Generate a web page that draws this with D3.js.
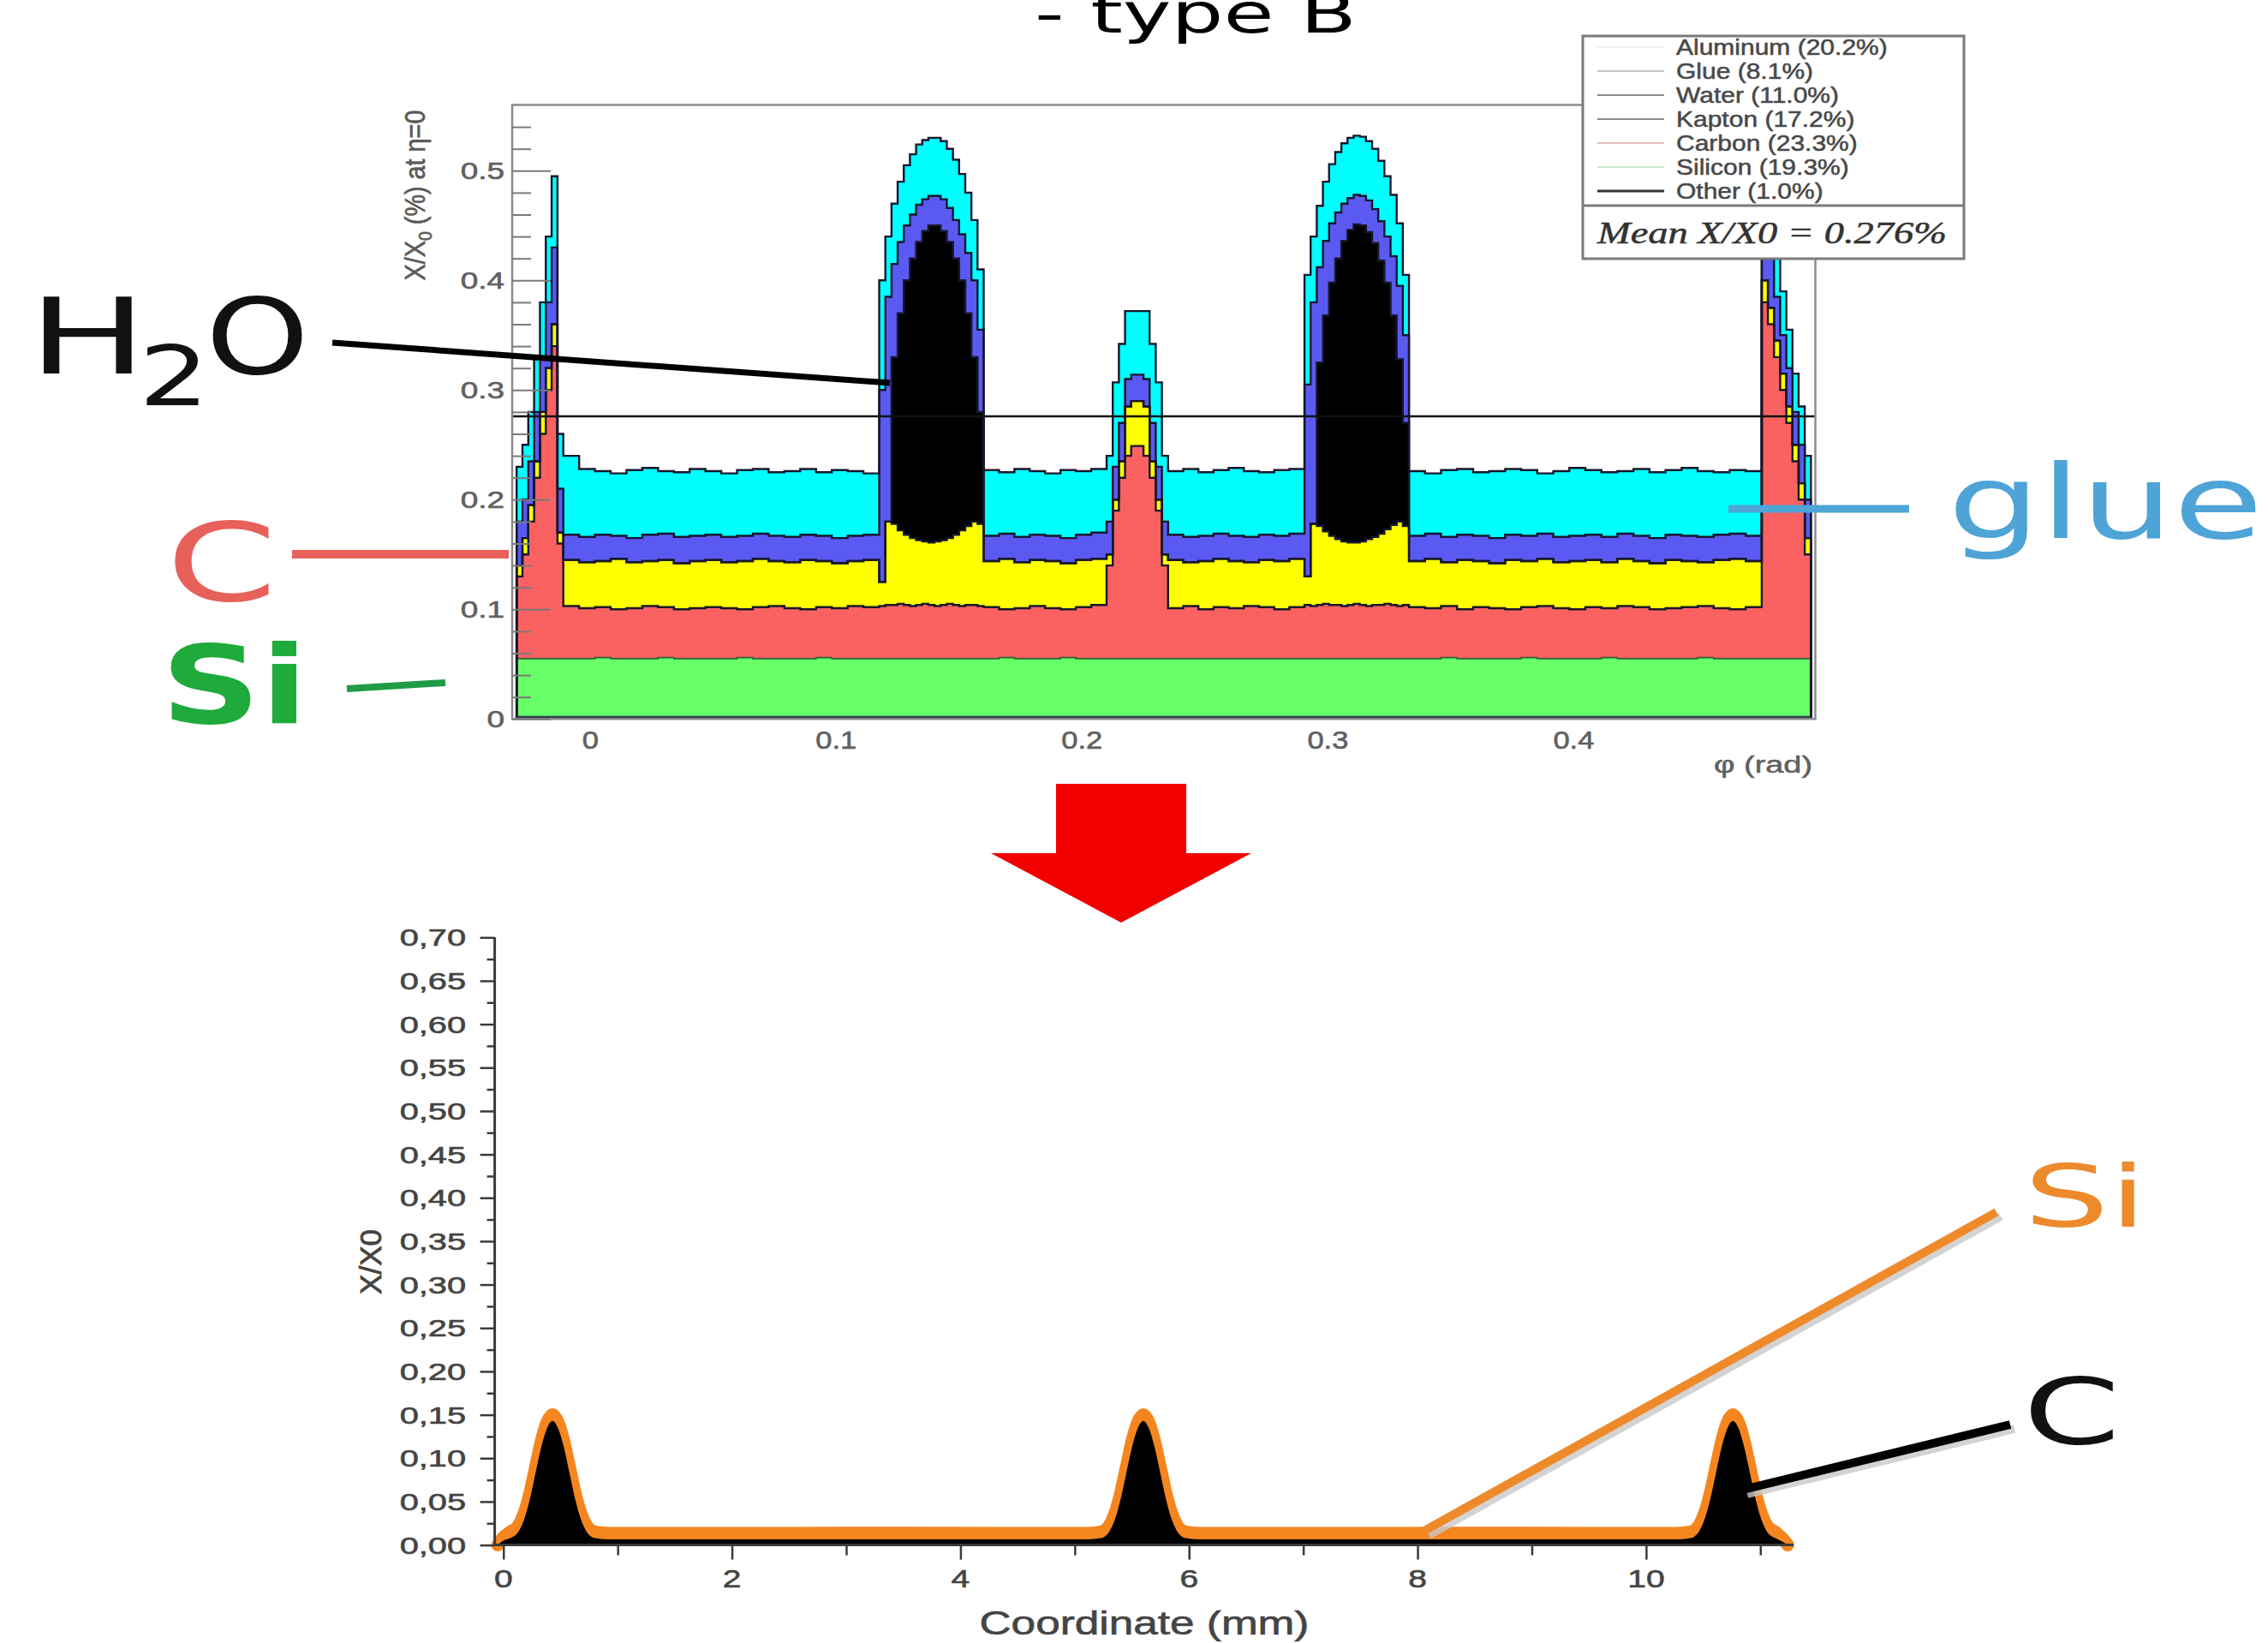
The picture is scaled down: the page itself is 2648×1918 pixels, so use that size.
<!DOCTYPE html>
<html>
<head>
<meta charset="utf-8">
<script src="https://cdn.jsdelivr.net/npm/d3@7"></script>
<style>
body { margin: 0; background: #fff; }
svg { display: block; }
</style>
</head>
<body>
<svg id="chart" width="2648" height="1918"></svg>
<script>
// ---------- top panel: stacked X/X0 (%) vs phi, one bin row per phi bin ----------
// [start, end, number of bins]
var phiSegments = [
    [-0.0300, -0.0110, 8],   // edge spike (left)
    [-0.0110,  0.1175, 20],
    [ 0.1175,  0.1600, 17],  // cooling pipe 1
    [ 0.1600,  0.2100, 8],
    [ 0.2100,  0.2350, 10],  // central spike
    [ 0.2350,  0.2905, 9],
    [ 0.2905,  0.3330, 17],  // cooling pipe 2
    [ 0.3330,  0.4765, 22],
    [ 0.4765,  0.4965, 8]    // edge spike (right)
];

// cumulative top of every layer, per bin
var siliconTop = [
    0.055,0.055,0.055,0.055,0.055,0.055,0.055,0.055,
    0.055,0.055,0.056,0.055,0.055,0.055,0.056,0.055,0.055,0.055,0.055,0.056,0.055,0.055,0.055,0.055,0.056,0.055,0.055,0.055,
    0.055,0.055,0.055,0.055,0.055,0.055,0.055,0.055,0.055,0.055,0.055,0.055,0.055,0.055,0.055,0.055,0.055,
    0.055,0.056,0.055,0.055,0.055,0.056,0.055,0.055,
    0.055,0.055,0.055,0.055,0.055,0.055,0.055,0.055,0.055,0.055,
    0.055,0.055,0.055,0.055,0.055,0.055,0.055,0.055,0.055,
    0.055,0.055,0.055,0.055,0.055,0.055,0.055,0.055,0.055,0.055,0.055,0.055,0.055,0.055,0.055,0.055,0.055,
    0.055,0.055,0.056,0.055,0.055,0.055,0.055,0.056,0.055,0.055,0.055,0.055,0.056,0.055,0.055,0.055,0.055,0.055,0.056,0.055,0.055,0.055,
    0.055,0.055,0.055,0.055,0.055,0.055,0.055,0.055
];
var carbonTop = [
    0.130,0.150,0.180,0.220,0.260,0.300,0.340,0.160,
    0.103,0.101,0.102,0.100,0.101,0.103,0.102,0.100,0.101,0.102,0.101,0.100,0.102,0.103,0.101,0.100,0.102,0.101,0.103,0.102,
    0.103,0.104,0.104,0.105,0.104,0.103,0.104,0.105,0.104,0.103,0.104,0.105,0.104,0.103,0.104,0.104,0.103,
    0.102,0.100,0.101,0.103,0.101,0.100,0.102,0.104,
    0.140,0.190,0.220,0.240,0.249,0.249,0.240,0.220,0.190,0.140,
    0.101,0.103,0.100,0.102,0.101,0.103,0.102,0.100,0.102,
    0.104,0.103,0.104,0.105,0.104,0.104,0.103,0.104,0.105,0.104,0.103,0.104,0.104,0.105,0.104,0.103,0.104,
    0.102,0.101,0.103,0.100,0.102,0.101,0.100,0.102,0.103,0.101,0.100,0.102,0.101,0.103,0.102,0.100,0.101,0.102,0.103,0.101,0.100,0.102,
    0.380,0.360,0.330,0.300,0.270,0.235,0.200,0.150
];
var kaptonTop = [
    0.140,0.165,0.195,0.235,0.280,0.320,0.360,0.170,
    0.145,0.143,0.144,0.146,0.143,0.144,0.145,0.142,0.144,0.145,0.143,0.144,0.146,0.144,0.143,0.145,0.144,0.142,0.144,0.145,
    0.125,0.180,0.178,0.172,0.168,0.165,0.163,0.162,0.161,0.162,0.163,0.165,0.168,0.172,0.176,0.180,0.178,
    0.144,0.146,0.143,0.145,0.144,0.142,0.145,0.146,
    0.150,0.200,0.235,0.285,0.290,0.290,0.285,0.235,0.200,0.150,
    0.145,0.143,0.144,0.146,0.144,0.143,0.145,0.144,0.146,
    0.130,0.178,0.176,0.171,0.167,0.164,0.162,0.161,0.161,0.162,0.164,0.166,0.169,0.173,0.177,0.180,0.176,
    0.144,0.146,0.143,0.145,0.144,0.142,0.145,0.144,0.146,0.143,0.144,0.145,0.143,0.146,0.144,0.142,0.145,0.144,0.143,0.145,0.146,0.144,
    0.400,0.375,0.345,0.315,0.285,0.250,0.215,0.165
];
var waterTop = [
    0.140,0.165,0.195,0.235,0.280,0.320,0.360,0.170,
    0.145,0.143,0.144,0.146,0.143,0.144,0.145,0.142,0.144,0.145,0.143,0.144,0.146,0.144,0.143,0.145,0.144,0.142,0.144,0.145,
    0.125,0.180,0.330,0.370,0.400,0.420,0.435,0.445,0.450,0.450,0.445,0.435,0.420,0.400,0.370,0.330,0.280,
    0.144,0.146,0.143,0.145,0.144,0.142,0.145,0.146,
    0.150,0.200,0.235,0.285,0.290,0.290,0.285,0.235,0.200,0.150,
    0.145,0.143,0.144,0.146,0.144,0.143,0.145,0.144,0.146,
    0.130,0.178,0.325,0.368,0.398,0.420,0.436,0.446,0.451,0.450,0.444,0.434,0.418,0.398,0.368,0.328,0.270,
    0.144,0.146,0.143,0.145,0.144,0.142,0.145,0.144,0.146,0.143,0.144,0.145,0.143,0.146,0.144,0.142,0.145,0.144,0.143,0.145,0.146,0.144,
    0.400,0.375,0.345,0.315,0.285,0.250,0.215,0.165
];
var aluminumTop = [
    0.180,0.200,0.235,0.280,0.330,0.380,0.430,0.210,
    0.168,0.166,0.168,0.167,0.165,0.168,0.169,0.166,0.167,0.168,0.166,0.167,0.169,0.167,0.166,0.168,0.167,0.165,0.167,0.168,
    0.300,0.385,0.415,0.435,0.450,0.460,0.469,0.474,0.477,0.477,0.474,0.466,0.455,0.442,0.425,0.400,0.355,
    0.167,0.169,0.166,0.168,0.167,0.165,0.168,0.170,
    0.180,0.230,0.270,0.310,0.314,0.314,0.310,0.270,0.230,0.180,
    0.168,0.166,0.167,0.169,0.167,0.166,0.168,0.167,0.169,
    0.305,0.380,0.412,0.436,0.452,0.462,0.470,0.475,0.478,0.477,0.473,0.465,0.454,0.440,0.422,0.395,0.350,
    0.167,0.169,0.166,0.168,0.167,0.165,0.168,0.167,0.169,0.166,0.167,0.168,0.166,0.169,0.167,0.165,0.168,0.167,0.166,0.168,0.169,0.167,
    0.450,0.420,0.385,0.350,0.320,0.280,0.250,0.200
];
var glueTop = [
    0.230,0.250,0.280,0.330,0.380,0.440,0.495,0.260,
    0.240,0.228,0.226,0.224,0.227,0.229,0.226,0.225,0.228,0.226,0.224,0.227,0.228,0.225,0.226,0.228,0.225,0.227,0.226,0.224,
    0.400,0.440,0.470,0.490,0.505,0.515,0.524,0.528,0.530,0.530,0.527,0.520,0.510,0.497,0.480,0.455,0.410,
    0.227,0.225,0.228,0.226,0.224,0.227,0.226,0.228,
    0.240,0.307,0.342,0.372,0.372,0.372,0.372,0.342,0.307,0.240,
    0.226,0.228,0.225,0.227,0.229,0.226,0.225,0.227,0.228,
    0.405,0.440,0.468,0.490,0.506,0.517,0.525,0.530,0.532,0.531,0.527,0.520,0.509,0.495,0.478,0.452,0.405,
    0.226,0.224,0.227,0.228,0.225,0.226,0.228,0.227,0.224,0.226,0.229,0.227,0.225,0.226,0.228,0.225,0.227,0.229,0.226,0.225,0.227,0.226,
    0.500,0.470,0.430,0.390,0.355,0.315,0.285,0.240
];

var layerTops = [siliconTop, carbonTop, kaptonTop, waterTop, aluminumTop, glueTop];
var layerColors = ['#66ff66', '#fa6262', '#ffff00', '#000000', '#5a5af2', '#00ffff'];
var meanX0 = 0.276;
var topYTicks = [0, 0.1, 0.2, 0.3, 0.4, 0.5];
var topXTicks = [0, 0.1, 0.2, 0.3, 0.4];
var legendEntries = ['Aluminum (20.2%)', 'Glue (8.1%)', 'Water (11.0%)', 'Kapton (17.2%)',
                     'Carbon (23.3%)', 'Silicon (19.3%)', 'Other (1.0%)'];
var legendLineColors = ['#f0f0f0', '#c4c4c4', '#8c8c8c', '#8c8c8c', '#e6bcbc', '#cfe8cf', '#333333'];

// ---------- bottom panel: X/X0 vs coordinate (mm) ----------
var coordMM = [
    -0.05, 0.00, 0.06, 0.13, 0.18, 0.23, 0.28, 0.33, 0.38, 0.43, 0.48, 0.53, 0.58, 0.63, 0.68, 0.73, 0.80, 0.93,
    1.50, 2.50, 3.50, 4.50, 5.10,
    5.23, 5.30, 5.35, 5.40, 5.45, 5.50, 5.55, 5.60, 5.65, 5.70, 5.75, 5.80, 5.85, 5.90, 5.97, 6.10,
    6.80, 7.80, 8.80, 9.60, 10.26,
    10.39, 10.46, 10.51, 10.56, 10.61, 10.66, 10.71, 10.76, 10.81, 10.86, 10.91, 10.96, 11.01, 11.06, 11.13, 11.19, 11.24
];
var carbonX0 = [
    0.000, 0.005, 0.008, 0.015, 0.029, 0.052, 0.082, 0.112, 0.134, 0.143, 0.134, 0.112, 0.082, 0.052, 0.029, 0.015, 0.008, 0.0065,
    0.0065, 0.0065, 0.0066, 0.0065, 0.0065,
    0.008, 0.015, 0.029, 0.052, 0.082, 0.112, 0.134, 0.143, 0.134, 0.112, 0.082, 0.052, 0.029, 0.015, 0.008, 0.0065,
    0.0065, 0.0065, 0.0066, 0.0065, 0.0065,
    0.008, 0.015, 0.029, 0.052, 0.082, 0.112, 0.134, 0.143, 0.134, 0.112, 0.082, 0.052, 0.029, 0.015, 0.008, 0.004, 0.000
];
var siliconX0 = [
    0.000, 0.004, 0.007, 0.007, 0.007, 0.007, 0.007, 0.007, 0.007, 0.007, 0.007, 0.007, 0.007, 0.007, 0.007, 0.007, 0.007, 0.007,
    0.007, 0.007, 0.007, 0.007, 0.007,
    0.007, 0.007, 0.007, 0.007, 0.007, 0.007, 0.007, 0.007, 0.007, 0.007, 0.007, 0.007, 0.007, 0.007, 0.007, 0.007,
    0.007, 0.007, 0.007, 0.007, 0.007,
    0.007, 0.007, 0.007, 0.007, 0.007, 0.007, 0.007, 0.007, 0.007, 0.007, 0.007, 0.007, 0.007, 0.007, 0.007, 0.004, 0.000
];
var bottomYTicks = [0, 0.05, 0.10, 0.15, 0.20, 0.25, 0.30, 0.35, 0.40, 0.45, 0.50, 0.55, 0.60, 0.65, 0.70];
var bottomXTicks = [0, 2, 4, 6, 8, 10];
var bottomXMinor = [1, 3, 5, 7, 9, 11];

var svg = d3.select('#chart');
svg.append('rect').attr('width', 2648).attr('height', 1918).attr('fill', '#fff');

// stretched text (the source picture is widened horizontally)
function addText(parent, str, x, y, o) {
    var t = parent.append('text')
	.attr('font-family', o.family || 'Liberation Sans, Arial, sans-serif')
	.attr('font-size', o.size)
	.attr('font-weight', o.weight || 'normal')
	.attr('font-style', o.style || 'normal')
	.attr('fill', o.fill || '#000')
	.attr('text-anchor', o.anchor || 'start')
	.text(str);
    if (o.stroke) t.attr('stroke', o.fill).attr('stroke-width', o.stroke);
    var sx = o.sx || 1;
    if (o.width) sx = o.width / t.node().getComputedTextLength();
    t.attr('transform', 'translate(' + x + ',' + y + ') scale(' + sx + ',1)');
    return t;
}

function callout(x1, y1, x2, y2, color, w, shadow) {
    if (shadow) {
	svg.append('line').attr('x1', x1 + 5).attr('y1', y1 + 5).attr('x2', x2 + 5).attr('y2', y2 + 5)
	    .attr('stroke', '#c9c9c9').attr('stroke-width', w).attr('opacity', 0.8);
    }
    svg.append('line').attr('x1', x1).attr('y1', y1).attr('x2', x2).attr('y2', y2)
	.attr('stroke', color).attr('stroke-width', w);
}

// ---------------- top panel ----------------
var xTop = d3.scaleLinear().domain([-0.0318, 0.4983]).range([598, 2119.5]);
var yTop = d3.scaleLinear().domain([0, 0.56]).range([839.3, 122.5]);

var edges = [];
phiSegments.forEach(function(s) {
    var w = (s[1] - s[0]) / s[2];
    for (var i = 0; i < s[2]; i++) edges.push(s[0] + i * w);
});
edges.push(phiSegments[phiSegments.length - 1][1]);
var nBins = edges.length - 1;
layerTops.forEach(function(a, k) {
    if (a.length != nBins) console.warn('layer ' + k + ' has ' + a.length + ' bins, expected ' + nBins);
});

var gTop = svg.append('g');
var idx = d3.range(nBins + 1);

layerTops.forEach(function(tops, k) {
    var area = d3.area()
	.curve(d3.curveStepAfter)
	.x(function(i) { return xTop(edges[i]); })
	.y0(function(i) { var j = Math.min(i, nBins - 1); return k == 0 ? yTop(0) : yTop(layerTops[k - 1][j]); })
	.y1(function(i) { var j = Math.min(i, nBins - 1); return yTop(tops[j]); });
    gTop.append('path').attr('d', area(idx)).attr('fill', layerColors[k]);
});

// histogram outlines
layerTops.forEach(function(tops, k) {
    var pts = [[edges[0], 0]];
    for (var i = 0; i < nBins; i++) pts.push([edges[i], tops[i]]);
    pts.push([edges[nBins], tops[nBins - 1]]);
    pts.push([edges[nBins], 0]);
    var line = d3.line().curve(d3.curveStepAfter)
	.x(function(d) { return xTop(d[0]); })
	.y(function(d) { return yTop(d[1]); });
    gTop.append('path').attr('d', line(pts)).attr('fill', 'none')
	.attr('stroke', k == 0 ? '#2f5f35' : '#17172c')
	.attr('stroke-width', k == 0 ? 1.6 : 2.4)
	.attr('stroke-linejoin', 'miter');
});
gTop.append('line').attr('x1', xTop(edges[0])).attr('x2', xTop(edges[nBins]))
    .attr('y1', yTop(0) - 2).attr('y2', yTop(0) - 2).attr('stroke', '#2e3b52').attr('stroke-width', 3);

// mean line
gTop.append('line').attr('x1', xTop.range()[0]).attr('x2', xTop.range()[1])
    .attr('y1', yTop(meanX0)).attr('y2', yTop(meanX0))
    .attr('stroke', '#111').attr('stroke-width', 2.6);

// frame
gTop.append('rect').attr('x', 598).attr('y', 122.5).attr('width', 2119.5 - 598).attr('height', 839.3 - 122.5)
    .attr('fill', 'none').attr('stroke', '#8c8c8c').attr('stroke-width', 2.5);

// y ticks (inside, ROOT style)
var minorTop = d3.range(1, 28).map(function(i) { return i * 0.02; })
    .filter(function(v) { return Math.abs(v * 10 - Math.round(v * 10)) > 1e-6; });
gTop.append('g').attr('transform', 'translate(598,0)')
    .call(d3.axisRight(yTop).tickValues(topYTicks).tickSize(45).tickFormat(''))
    .call(function(g) { g.select('.domain').remove(); g.selectAll('line').attr('stroke', '#7a7a7a').attr('stroke-width', 2); });
gTop.append('g').attr('transform', 'translate(598,0)')
    .call(d3.axisRight(yTop).tickValues(minorTop).tickSize(22).tickFormat(''))
    .call(function(g) { g.select('.domain').remove(); g.selectAll('line').attr('stroke', '#7a7a7a').attr('stroke-width', 2); });

topYTicks.forEach(function(v) {
    addText(gTop, v == 0 ? '0' : d3.format('.1f')(v), 589, yTop(v) + 10, { size: 28, sx: 1.32, fill: '#606060', stroke: 0.6, anchor: 'end' });
});
topXTicks.forEach(function(v) {
    addText(gTop, v == 0 ? '0' : d3.format('.1f')(v), xTop(v), 874, { size: 30, sx: 1.15, fill: '#606060', stroke: 0.6, anchor: 'middle' });
});
addText(gTop, '\u03c6 (rad)', 2116, 902, { size: 27, width: 115, fill: '#606060', stroke: 0.5, anchor: 'end' });

// rotated y title with subscript
var yt = gTop.append('text')
    .attr('font-family', 'Liberation Sans, Arial, sans-serif').attr('font-size', 25)
    .attr('fill', '#5a5a5a').attr('stroke', '#5a5a5a').attr('stroke-width', 0.5).attr('text-anchor', 'middle');
yt.append('tspan').text('X/X');
yt.append('tspan').attr('font-size', 17).attr('dy', 6).text('0');
yt.append('tspan').attr('dy', -6).text(' (%) at \u03b7=0');
var ytw = yt.node().getComputedTextLength();
yt.attr('transform', 'translate(496,228) rotate(-90) scale(' + (199 / ytw) + ',1.3)');

// legend / stats box
var gLeg = svg.append('g');
gLeg.append('rect').attr('x', 1848).attr('y', 42).attr('width', 445).attr('height', 260)
    .attr('fill', '#fff').attr('stroke', '#7a7a7a').attr('stroke-width', 3);
gLeg.append('line').attr('x1', 1848).attr('x2', 2293).attr('y1', 240).attr('y2', 240)
    .attr('stroke', '#7a7a7a').attr('stroke-width', 3);
legendEntries.forEach(function(s, i) {
    var cy = 55 + i * 28;
    gLeg.append('line').attr('x1', 1865).attr('x2', 1943).attr('y1', cy).attr('y2', cy)
	.attr('stroke', legendLineColors[i]).attr('stroke-width', i == 6 ? 3 : 2);
    addText(gLeg, s, 1957, cy + 9, { size: 25, sx: 1.2, fill: '#484848', stroke: 0.5 });
});
addText(gLeg, 'Mean X/X0 = 0.276%', 1865, 284,
	{ family: 'Liberation Serif, Times New Roman, serif', style: 'italic', size: 36, width: 408, fill: '#333', stroke: 0.5 });

// ---------------- title, arrow ----------------
addText(svg, '- type B', 1208, 38, { family: 'DejaVu Sans, Verdana, sans-serif', size: 64, sx: 1.5, fill: '#000' });
svg.append('polygon')
    .attr('points', [[1233, 915], [1385, 915], [1385, 996], [1461, 996], [1309, 1077], [1157, 996], [1233, 996]].join(' '))
    .attr('fill', '#f20000');

// ---------------- bottom panel ----------------
var xBot = d3.scaleLinear().domain([-0.076, 11.29]).range([577.6, 2094]);
var yBot = d3.scaleLinear().domain([0, 0.70]).range([1803.6, 1094.3]);
var gBot = svg.append('g');

var botRows = coordMM.map(function(c, i) { return { x: c, c: carbonX0[i], si: siliconX0[i] }; });
var siLine = d3.line().curve(d3.curveMonotoneX)
    .x(function(d) { return xBot(d.x); })
    .y(function(d) { return yBot(d.c + d.si); });
var cArea = d3.area().curve(d3.curveMonotoneX)
    .x(function(d) { return xBot(d.x); })
    .y0(yBot(0))
    .y1(function(d) { return yBot(d.c); });
gBot.append('path').attr('d', siLine(botRows)).attr('fill', 'none')
    .attr('stroke', '#f5861f').attr('stroke-width', 15).attr('stroke-linejoin', 'round').attr('stroke-linecap', 'round');
gBot.append('path').attr('d', cArea(botRows)).attr('fill', '#000');

// axes
var axisColor = '#3a3a3a';
gBot.append('g').attr('transform', 'translate(577.6,0)')
    .call(d3.axisLeft(yBot).tickValues(bottomYTicks).tickSize(17).tickFormat(''))
    .call(function(g) { g.select('.domain').remove(); g.selectAll('line').attr('stroke', axisColor).attr('stroke-width', 2.5); });
var minorBotY = bottomYTicks.slice(1).map(function(v) { return v - 0.025; });
gBot.append('g').attr('transform', 'translate(577.6,0)')
    .call(d3.axisLeft(yBot).tickValues(minorBotY).tickSize(9).tickFormat(''))
    .call(function(g) { g.select('.domain').remove(); g.selectAll('line').attr('stroke', axisColor).attr('stroke-width', 2.5); });
gBot.append('g').attr('transform', 'translate(0,1803.6)')
    .call(d3.axisBottom(xBot).tickValues(bottomXTicks).tickSize(17).tickFormat(''))
    .call(function(g) { g.select('.domain').remove(); g.selectAll('line').attr('stroke', axisColor).attr('stroke-width', 2.5); });
gBot.append('g').attr('transform', 'translate(0,1803.6)')
    .call(d3.axisBottom(xBot).tickValues(bottomXMinor).tickSize(12).tickFormat(''))
    .call(function(g) { g.select('.domain').remove(); g.selectAll('line').attr('stroke', axisColor).attr('stroke-width', 2.5); });
gBot.append('line').attr('x1', 577.6).attr('x2', 577.6).attr('y1', 1094.3).attr('y2', 1805)
    .attr('stroke', axisColor).attr('stroke-width', 3);
gBot.append('line').attr('x1', 576).attr('x2', 2094).attr('y1', 1803.6).attr('y2', 1803.6)
    .attr('stroke', axisColor).attr('stroke-width', 3);

bottomYTicks.forEach(function(v) {
    addText(gBot, d3.format('.2f')(v).replace('.', ','), 544, yBot(v) + 10, { size: 28, sx: 1.42, fill: '#444', stroke: 0.6, anchor: 'end' });
});
bottomXTicks.forEach(function(v) {
    addText(gBot, String(v), xBot(v), 1853, { size: 30, sx: 1.3, fill: '#444', stroke: 0.6, anchor: 'middle' });
});
addText(gBot, 'Coordinate (mm)', 1336, 1908, { size: 38, width: 385, fill: '#444', stroke: 0.6, anchor: 'middle' });
var bt = gBot.append('text').attr('font-family', 'Liberation Sans, Arial, sans-serif').attr('font-size', 26)
    .attr('fill', '#444').attr('stroke', '#444').attr('stroke-width', 0.6).attr('text-anchor', 'middle').text('X/X0');
var btw = bt.node().getComputedTextLength();
bt.attr('transform', 'translate(445,1473) rotate(-90) scale(' + (76 / btw) + ',1.35)');

// ---------------- annotations ----------------
var big = 'DejaVu Sans, Verdana, sans-serif';
callout(388, 400, 1039, 447, '#000', 7);
addText(svg, 'H', 33, 436, { family: big, size: 123, sx: 1.5, fill: '#111' });
addText(svg, '2', 162, 473, { family: big, size: 96, sx: 1.35, fill: '#111' });
addText(svg, 'O', 240, 436, { family: big, size: 123, sx: 1.25, fill: '#111' });

callout(341, 647, 594, 647, '#e8605a', 10);
addText(svg, 'C', 194, 701, { family: big, size: 127, sx: 1.46, fill: '#e8605a' });

callout(405, 804, 520, 797, '#1f9c45', 8);
addText(svg, 'Si', 188, 844, { family: big, size: 127, weight: 'bold', sx: 1.27, fill: '#1faa3c' });

callout(2018, 594, 2229, 594, '#4ea4d6', 9);
addText(svg, 'glue', 2274, 628, { family: big, size: 120, sx: 1.42, fill: '#4ea4d6' });

callout(1663, 1787, 2331, 1415, '#ef8a2a', 10, true);
addText(svg, 'Si', 2363, 1432, { family: big, size: 100, sx: 1.57, fill: '#ec8a2c' });

callout(2035, 1739, 2347, 1663, '#000', 10, true);
addText(svg, 'C', 2362, 1685, { family: big, size: 107, sx: 1.52, fill: '#111' });
</script>
</body>
</html>
